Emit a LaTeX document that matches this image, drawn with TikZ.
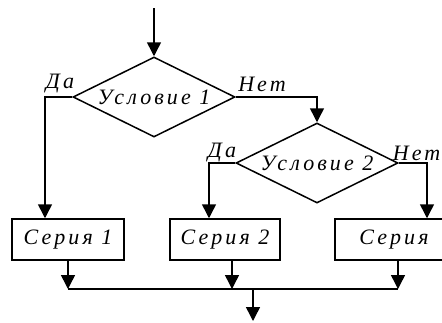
\documentclass[tikz,border=0pt]{standalone}
\usepackage{fontspec}
\setmainfont{Liberation Serif}
\newfontfamily\schemefont[LetterSpace=14]{Liberation Serif}
\usetikzlibrary{shapes.geometric, arrows.meta, positioning}

\begin{document}
\begin{tikzpicture}[x=1pt, y=-1pt, line width=1.5pt,
    >={Triangle[length=14pt, width=14pt]},
    cond/.style={diamond, draw, aspect=2.05, inner sep=0pt, minimum width=162pt, minimum height=80pt,
        font=\schemefont\itshape\fontsize{22}{24}\selectfont},
    series/.style={rectangle, draw, minimum height=41pt, inner sep=0pt,
        font=\schemefont\itshape\fontsize{22}{24}\selectfont},
    branch/.style={inner sep=0pt, font=\schemefont\itshape\fontsize{22}{24}\selectfont}]
    \useasboundingbox (0,0) rectangle (442,322);
    \clip (0,0) rectangle (442,322);
    % Conditions
    \node[cond] (c1) at (154,97) {Условие 1};
    \node[cond] (c2) at (317,163) {Условие 2};
    % Series blocks
    \node[series, minimum width=112pt] (s1) at (68,239.5) {Серия 1};
    \node[series, minimum width=110pt] (s2) at (225,239.5) {Серия 2};
    \node[series, minimum width=118pt] (s3) at (394,239.5) {Серия};
    % Branch labels
    \node[branch] (yes1) at (60,84) {Да};
    \node[branch] (no1) at (262,84) {Нет};
    \node[branch] (yes2) at (222,153) {Да};
    \node[branch, anchor=east] (no2) at (441,153) {Нет};
    % Entry and exit
    \coordinate (start) at (154,8);
    \coordinate (join) at (253,289);
    \coordinate (stop) at (253,321);
    \draw[->] (start) -- (c1.north);
    % Branches of condition 1
    \draw[->] (c1.west) -| ([xshift=-23pt]s1.north);
    \draw[->] (c1.east) -| (c2.north);
    % Branches of condition 2
    \draw[->] (c2.west) -| ([xshift=-16pt]s2.north);
    \draw[->] (c2.east) -| ([xshift=33pt]s3.north);
    % Outputs into the common line
    \draw[->] (s1.south) -- (s1.south |- join);
    \draw[->] ([xshift=7pt]s2.south) -- ([xshift=7pt]s2.south |- join);
    \draw[->] ([xshift=4pt]s3.south) -- ([xshift=4pt]s3.south |- join);
    \draw (s1.south |- join) -- ([xshift=4pt]s3.south |- join);
    \draw[->] (join) -- (stop);
\end{tikzpicture}
\end{document}
